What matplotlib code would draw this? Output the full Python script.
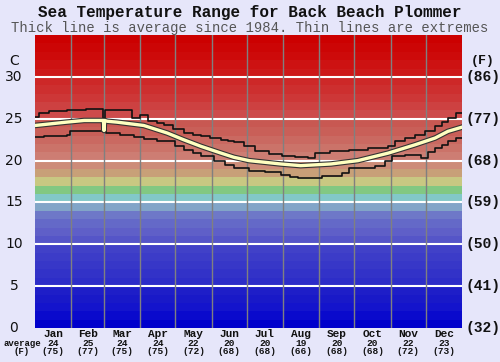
import matplotlib
matplotlib.use("Agg")
import matplotlib.pyplot as plt
import matplotlib.patheffects as pe
import numpy as np

months = ['Jan', 'Feb', 'Mar', 'Apr', 'May', 'Jun', 'Jul', 'Aug', 'Sep', 'Oct', 'Nov', 'Dec']
month_days = [31, 28, 31, 30, 31, 30, 31, 31, 30, 31, 30, 31]
avg_c = [24, 25, 24, 24, 22, 20, 20, 19, 20, 20, 22, 23]
avg_f = [75, 77, 75, 75, 72, 68, 68, 66, 68, 68, 72, 73]

# average line (day of year, deg C)
avg_day = [0, 27, 42, 56, 58.5, 59, 59.5, 62, 70, 93, 113, 127, 142, 159, 170, 183, 210, 227, 253, 276, 302, 325, 342, 353, 365]
avg_temp = [24.2, 24.6, 24.8, 24.8, 24.8, 23.6, 24.8, 24.7, 24.6, 24.2, 23.3, 22.5, 21.7, 20.9, 20.4, 20.0, 19.6, 19.4, 19.6, 20.0, 20.9, 21.9, 22.7, 23.5, 24.0]

# extremes (stepped)
max_day = [0, 3, 12, 27, 44, 58.5, 59.5, 61, 73, 83, 90, 97, 104, 110, 118, 127, 135, 142, 150, 159, 165, 170, 179, 188, 200, 211, 222, 233, 239, 252, 268, 285, 302, 308, 316, 325, 333, 342, 348, 353, 360, 365]
max_temp = [25.2, 25.7, 25.9, 26.1, 26.2, 25.1, 26.1, 26.1, 26.0, 25.1, 25.5, 24.7, 24.5, 24.3, 23.8, 23.3, 23.1, 22.9, 22.7, 22.5, 22.3, 22.2, 21.7, 21.1, 20.8, 20.5, 20.4, 20.3, 20.9, 21.1, 21.3, 21.5, 21.7, 22.3, 22.7, 23.1, 23.6, 24.1, 24.6, 25.1, 25.7, 25.7]
min_day = [0, 8, 27, 30, 59, 61, 73, 85, 93, 104, 113, 120, 127, 135, 142, 153, 162, 170, 183, 197, 210, 218, 225, 245, 262, 268, 291, 299, 305, 316, 330, 336, 342, 348, 353, 360, 365]
min_temp = [22.8, 23.0, 23.1, 23.5, 23.5, 23.3, 23.1, 22.8, 22.6, 22.4, 22.3, 21.8, 21.3, 20.9, 20.5, 19.9, 19.5, 19.1, 18.8, 18.6, 18.3, 18.1, 17.9, 18.2, 18.5, 19.1, 19.3, 19.9, 20.5, 20.7, 20.3, 21.0, 21.5, 21.9, 22.3, 22.7, 22.7]

c_ticks = [0, 5, 10, 15, 20, 25, 30]
f_ticks = [32, 41, 50, 59, 68, 77, 86]

# background band colours, one per degree from 0 to 35
band_rgb = [
    (0, 0, 204), (10, 10, 204), (20, 20, 204), (25, 25, 200), (30, 30, 200),
    (45, 45, 200), (50, 50, 200), (55, 55, 200), (60, 60, 200), (65, 65, 200),
    (85, 85, 200), (95, 95, 200), (100, 105, 200), (110, 120, 200), (130, 165, 200),
    (130, 200, 200), (130, 200, 130), (200, 200, 130), (200, 160, 120), (205, 140, 120),
    (205, 125, 115), (203, 115, 105), (202, 105, 97), (201, 95, 88), (200, 88, 82),
    (205, 75, 75), (205, 65, 65), (205, 55, 55), (205, 47, 47), (205, 40, 40),
    (205, 25, 25), (205, 18, 18), (205, 10, 10), (204, 5, 5), (204, 0, 0),
]

bg = '#e6e6fa'
fig = plt.figure(figsize=(5, 3.62), dpi=100, facecolor=bg)
ax = fig.add_axes([0.07, 0.094, 0.854, 0.809])

for i, rgb in enumerate(band_rgb):
    ax.axhspan(i, i + 1, color=tuple(v / 255 for v in rgb), lw=0, zorder=0)

for t in c_ticks[1:]:
    ax.axhline(t, color='white', lw=1.5, zorder=1)

edges = np.cumsum([0] + month_days)
for e in edges[1:-1]:
    ax.axvline(e, color='#808080', lw=1, zorder=1)

ax.plot(max_day, max_temp, drawstyle='steps-post', color='#111111', lw=1.2, zorder=3)
ax.plot(min_day, min_temp, drawstyle='steps-post', color='#111111', lw=1.2, zorder=3)
ax.plot(avg_day, avg_temp, color='#ffffc0', lw=2.4, zorder=4,
        path_effects=[pe.Stroke(linewidth=4, foreground='#333333'), pe.Normal()])

ax.set_xlim(0, 365)
ax.set_ylim(0, 35)
ax.set_xticks([])
ax.set_yticks([])
for s in ax.spines.values():
    s.set_visible(False)

mono = 'Liberation Mono'
fig.text(0.5, 1 - 13 / 362, 'Sea Temperature Range for Back Beach Plommer', ha='center', va='center',
         family=mono, weight='bold', fontsize=11.5, color='#111111')
fig.text(0.5, 1 - 28 / 362, 'Thick line is average since 1984. Thin lines are extremes', ha='center', va='center',
         family=mono, fontsize=10, color='#555555')

# left Celsius labels
ax.text(-18, 31.9, 'C', ha='center', va='center', fontsize=10, color='#111111', family='DejaVu Sans')
for t in c_ticks:
    ax.text(-18, t, str(t), ha='center', va='center', fontsize=10, color='#111111', family='DejaVu Sans')

# right Fahrenheit labels
ax.text(383, 31.9, '(F)', ha='center', va='center', fontsize=9.5, color='#111111', family=mono, weight='bold')
for t, f in zip(c_ticks, f_ticks):
    ax.text(383, t, '(%d)' % f, ha='center', va='center', fontsize=10.5, color='#111111', family=mono, weight='bold')

mids = edges[:-1] + np.array(month_days) / 2
for m, x, c, f in zip(months, mids, avg_c, avg_f):
    ax.text(x, -0.72, m, ha='center', va='center', fontsize=8, family=mono, weight='bold', color='#111111')
    ax.text(x, -1.8, str(c), ha='center', va='center', fontsize=6.8, family=mono, weight='bold', color='#111111')
    ax.text(x, -2.87, '(%d)' % f, ha='center', va='center', fontsize=6.8, family=mono, weight='bold', color='#111111')
fig.text(22 / 500, 1 - 343 / 362, 'average', ha='center', va='center', fontsize=6.5, family=mono, weight='bold', color='#111111')
fig.text(22 / 500, 1 - 352 / 362, '(F)', ha='center', va='center', fontsize=6.5, family=mono, weight='bold', color='#111111')

fig.savefig('out.png', dpi=100, facecolor=bg)
